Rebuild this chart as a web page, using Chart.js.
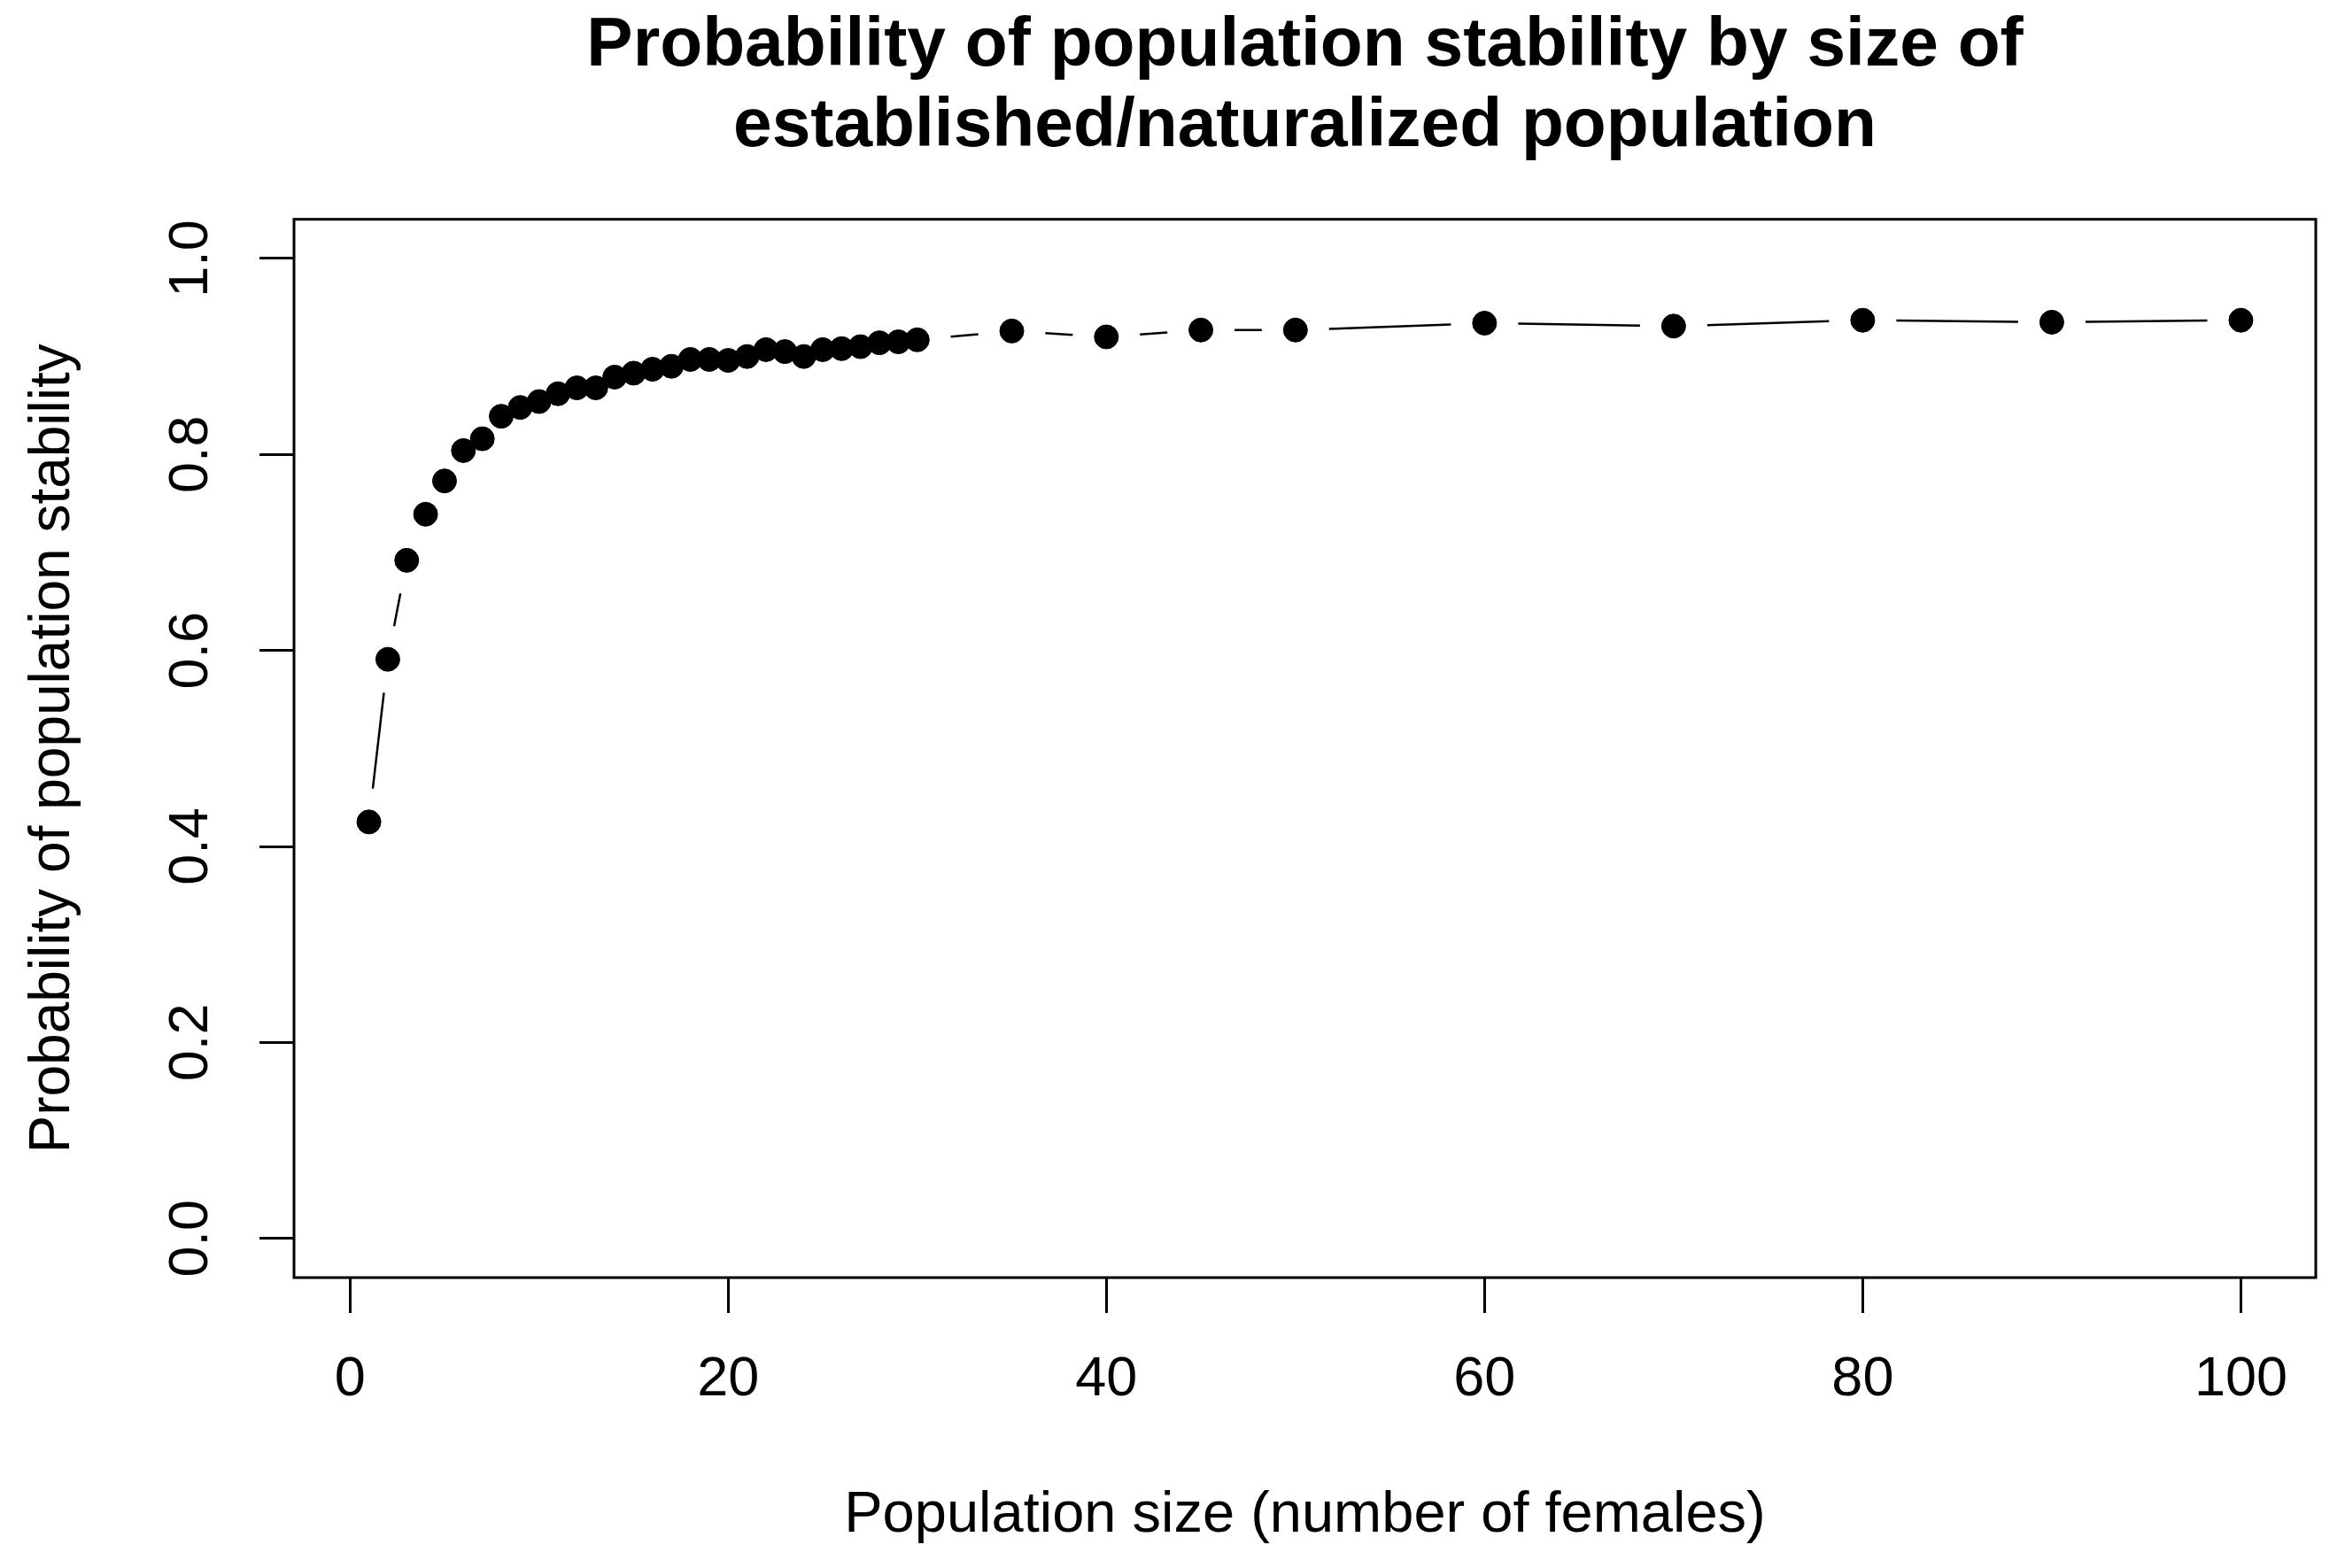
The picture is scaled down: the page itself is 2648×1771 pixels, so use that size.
<!DOCTYPE html>
<html>
<head>
<meta charset="utf-8">
<script src="https://cdn.jsdelivr.net/npm/chart.js@4.4.1/dist/chart.umd.min.js"></script>
<style>
  html, body { margin: 0; padding: 0; background: #ffffff; }
  #wrap { width: 2648px; height: 1771px; }
</style>
</head>
<body>
<div id="wrap"><canvas id="c" width="2648" height="1771"></canvas></div>
<script>
// ---- data ----
const popSize = [1, 2, 3, 4, 5, 6, 7, 8, 9, 10,
                 11, 12, 13, 14, 15, 16, 17, 18, 19, 20,
                 21, 22, 23, 24, 25, 26, 27, 28, 29, 30,
                 35, 40, 45, 50, 60, 70, 80, 90, 100];
const stability = [0.425, 0.591, 0.692, 0.739, 0.773, 0.804, 0.816, 0.839, 0.848, 0.854,
                   0.862, 0.868, 0.868, 0.879, 0.883, 0.887, 0.890, 0.897, 0.897, 0.896,
                   0.900, 0.907, 0.905, 0.900, 0.907, 0.908, 0.910, 0.914, 0.915, 0.917,
                   0.926, 0.920, 0.927, 0.927, 0.934, 0.931, 0.937, 0.935, 0.937];
const titleLines = ['Probability of population stability by size of',
                    'established/naturalized population'];
const xTitle = 'Population size (number of females)';
const yTitle = 'Probability of population stability';
const xTickValues = [0, 20, 40, 60, 80, 100];
const yTickValues = [0, 0.2, 0.4, 0.6, 0.8, 1.0];

// ---- styles ----
const FONT = "'Liberation Sans', Arial, Helvetica, sans-serif";
const GAP = 38;

const whiteBg = {
  id: 'whiteBg',
  beforeDraw(chart) {
    const ctx = chart.ctx;
    ctx.save();
    ctx.fillStyle = '#ffffff';
    ctx.fillRect(0, 0, chart.width, chart.height);
    ctx.restore();
  }
};

// R type="b": segments between points, with a gap around each point
const gappedLines = {
  id: 'gappedLines',
  beforeDatasetsDraw(chart) {
    const pts = chart.getDatasetMeta(0).data;
    const ctx = chart.ctx;
    ctx.save();
    ctx.strokeStyle = '#000000';
    ctx.lineWidth = 2.5;
    ctx.beginPath();
    for (let i = 0; i < pts.length - 1; i++) {
      const a = pts[i], b = pts[i + 1];
      const dx = b.x - a.x, dy = b.y - a.y;
      const d = Math.hypot(dx, dy);
      if (d <= 2 * GAP) continue;
      const ux = dx / d, uy = dy / d;
      ctx.moveTo(a.x + ux * GAP, a.y + uy * GAP);
      ctx.lineTo(b.x - ux * GAP, b.y - uy * GAP);
    }
    ctx.stroke();
    ctx.restore();
  }
};

const frameBox = {
  id: 'frameBox',
  afterDatasetsDraw(chart) {
    const ca = chart.chartArea;
    const ctx = chart.ctx;
    ctx.save();
    ctx.strokeStyle = '#000000';
    ctx.lineWidth = 3;
    ctx.strokeRect(ca.left, ca.top, ca.right - ca.left, ca.bottom - ca.top);
    ctx.restore();
  }
};

const points = popSize.map((x, i) => ({ x: x, y: stability[i] }));

new Chart(document.getElementById('c'), {
  type: 'scatter',
  data: {
    datasets: [{
      data: points,
      showLine: false,
      pointRadius: 13.5,
      pointHoverRadius: 13.5,
      pointBackgroundColor: '#000000',
      pointBorderColor: '#000000',
      pointBorderWidth: 1
    }]
  },
  options: {
    responsive: false,
    animation: false,
    devicePixelRatio: 1,
    layout: { padding: { left: 0, right: 33, top: 0, bottom: 0 } },
    plugins: {
      legend: { display: false },
      tooltip: { enabled: false },
      title: {
        display: true,
        text: titleLines,
        color: '#000000',
        fullSize: false,
        font: { family: FONT, size: 78.5, weight: 'bold', lineHeight: 1.17 },
        padding: { top: 6, bottom: 58 }
      }
    },
    scales: {
      x: {
        type: 'linear',
        min: -2.96,
        max: 103.96,
        afterFit(scale) { scale.height = 328; },
        afterBuildTicks(scale) { scale.ticks = xTickValues.map(v => ({ value: v })); },
        border: { display: false },
        grid: {
          drawOnChartArea: false,
          drawTicks: true,
          tickLength: 40,
          tickWidth: 3,
          tickColor: '#000000'
        },
        ticks: {
          color: '#000000',
          font: { family: FONT, size: 63 },
          padding: 38,
          maxRotation: 0,
          autoSkip: false,
          callback: v => String(v)
        },
        title: {
          display: true,
          text: xTitle,
          color: '#000000',
          font: { family: FONT, size: 65 },
          padding: { top: 0, bottom: 20 }
        }
      },
      y: {
        type: 'linear',
        min: -0.04,
        max: 1.04,
        afterFit(scale) { scale.width = 332; },
        afterBuildTicks(scale) { scale.ticks = yTickValues.map(v => ({ value: v })); },
        border: { display: false },
        grid: {
          drawOnChartArea: false,
          drawTicks: true,
          tickLength: 39,
          tickWidth: 3,
          tickColor: '#000000'
        },
        ticks: {
          color: '#000000',
          font: { family: FONT, size: 63 },
          padding: 33,
          minRotation: 90,
          maxRotation: 90,
          crossAlign: 'center',
          autoSkip: false,
          callback: v => v.toFixed(1)
        },
        title: {
          display: true,
          text: yTitle,
          color: '#000000',
          font: { family: FONT, size: 64 },
          padding: { top: 22, bottom: 0 }
        }
      }
    }
  },
  plugins: [whiteBg, gappedLines, frameBox]
});
</script>
</body>
</html>
